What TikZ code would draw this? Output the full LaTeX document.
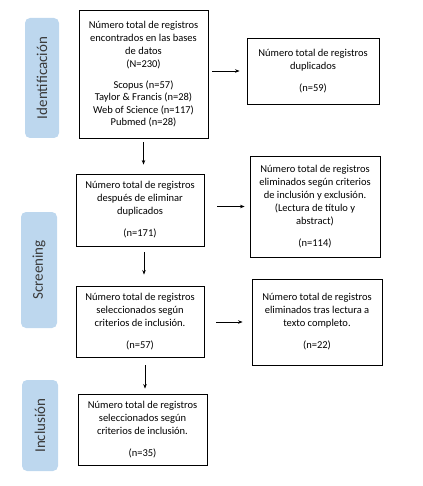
\documentclass[tikz,border=0pt]{standalone}
\usepackage{fontspec}
\setmainfont{Carlito}
\usetikzlibrary{arrows.meta}
\definecolor{lblfill}{HTML}{BDD7EE}
\definecolor{lbltext}{HTML}{3A3A3A}
\tikzset{
  box/.style={draw=black, line width=0.9pt, rectangle, align=center, inner sep=2pt,
    font=\fontsize{10.5}{13}\selectfont},
  stage/.style={fill=lblfill, rounded corners=5pt, rotate=90, inner sep=0pt,
    text=lbltext, font=\fontsize{15}{17}\selectfont},
  arr/.style={-{Stealth[length=4.5pt,width=3.5pt]}, line width=0.7pt}
}
\begin{document}
\begin{tikzpicture}
\useasboundingbox (0,0) rectangle (422pt,-486pt);
% stage labels
\node[stage, minimum width=120pt, minimum height=34pt] (L1) at (42pt,-78pt) {Identificación};
\node[stage, minimum width=116pt, minimum height=36pt] (L2) at (39pt,-270pt) {Screening};
\node[stage, minimum width=91pt, minimum height=36pt] (L3) at (40pt,-425.5pt) {Inclusión};
% boxes
\node[box, minimum width=129pt, minimum height=128pt] (b1) at (143.5pt,-74pt)
 {Número total de registros\\encontrados en las bases\\de datos\\(N=230)\\[8pt]
  Scopus (n=57)\\[-0.5pt]Taylor \& Francis (n=28)\\[-0.5pt]Web of Science (n=117)\\[-0.5pt]Pubmed (n=28)};
\node[box, minimum width=132pt, minimum height=66pt] (b2) at (313pt,-71pt)
 {Número total de registros\\duplicados\\[9pt](n=59)};
\node[box, minimum width=128pt, minimum height=72pt] (b3) at (140pt,-210pt)
 {Número total de registros\\después de eliminar\\duplicados\\[9pt](n=171)};
\node[box, minimum width=130pt, minimum height=101pt] (b4) at (315pt,-206.5pt)
 {Número total de registros\\eliminados según criterios\\de inclusión y exclusión.\\(Lectura de título y\\abstract)\\[9pt](n=114)};
\node[box, minimum width=128pt, minimum height=71pt] (b5) at (140pt,-321.5pt)
 {Número total de registros\\seleccionados según\\criterios de inclusión.\\[9pt](n=57)};
\node[box, minimum width=130pt, minimum height=86pt] (b6) at (317pt,-322pt)
 {Número total de registros\\eliminados tras lectura a\\texto completo.\\[9pt](n=22)};
\node[box, minimum width=129pt, minimum height=71pt] (b7) at (142.5pt,-429.5pt)
 {Número total de registros\\seleccionados según\\criterios de inclusión.\\[9pt](n=35)};
% arrows
\draw[arr, shorten <=4pt, shorten >=7pt] (b2.west -| b1.east) -- (b2.west);
\draw[arr, shorten <=13pt, shorten >=5pt] (b4.west -| b3.east) -- (b4.west);
\draw[arr, shorten <=12pt, shorten >=9pt] (b6.west -| b5.east) -- (b6.west);
\draw[arr, shorten <=4pt, shorten >=9pt] (b1.south) -- (b1.south |- b3.north);
\draw[arr, shorten <=6pt, shorten >=11pt] ([xshift=4pt]b3.south) -- ([xshift=4pt]b3.south |- b5.north);
\draw[arr, shorten <=8pt, shorten >=5pt] ([xshift=5pt]b5.south) -- ([xshift=5pt]b5.south |- b7.north);
\end{tikzpicture}
\end{document}
